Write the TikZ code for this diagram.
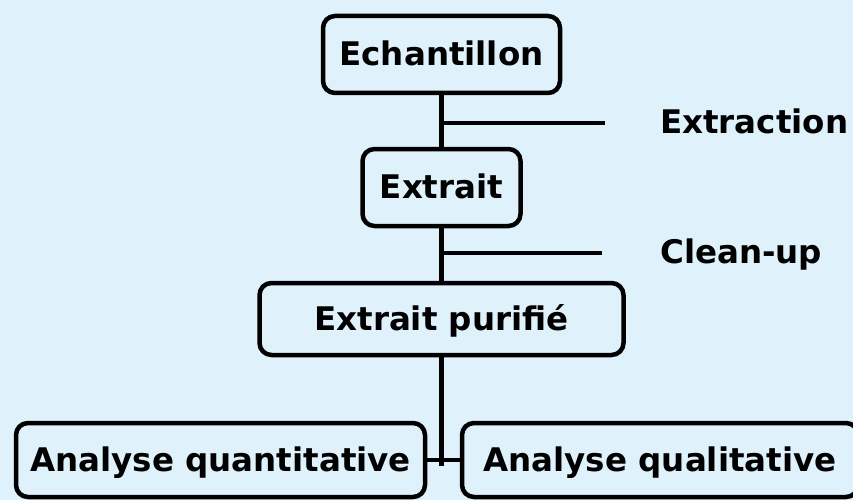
\documentclass[tikz,border=0pt]{standalone}
\usepackage{fontspec}
\setmainfont{DejaVu Sans}
\usepackage{tikz}
\usetikzlibrary{positioning}
\definecolor{fondbleu}{RGB}{223,242,251}

\begin{document}
\begin{tikzpicture}[line cap=round,line join=round,x=1pt,y=-1pt,
  etape/.style={draw=black,line width=4.5pt,rounded corners=12pt,fill=fondbleu,
    font=\fontsize{32.5}{39}\selectfont\bfseries,inner sep=0pt,
    text height=29pt,text depth=7pt},
  lien/.style={draw=black,line width=4.5pt,line cap=butt},
  operation/.style={font=\fontsize{32.5}{39}\selectfont\bfseries,inner sep=0pt,anchor=base west}]
\clip (0,0) rectangle (853,500);
\fill[fondbleu] (0,0) rectangle (853,500);
% tronc principal
\coordinate (jn) at (441.5,466);
\coordinate (t1) at (441.5,123);
\coordinate (e1) at (605,123);
\coordinate (t2) at (441.5,253);
\coordinate (e2) at (602,253);
\node[etape,minimum width=237,minimum height=77] (ech) at (441.5,54.5) {Echantillon};
\node[etape,minimum width=158,minimum height=77] (ext) at (441.5,187.5) {Extrait};
\node[etape,minimum width=364,minimum height=72] (pur) at (441.5,319) {Extrait purifi\'e};
\node[etape,minimum width=409,minimum height=74] (quant) at (220.5,460) {Analyse quantitative};
\node[etape,minimum width=396,minimum height=74] (qual) at (660,460) {Analyse qualitative};
\draw[lien] (ech) -- (ext);
\draw[lien] (ext) -- (pur);
\draw[lien] (pur) -- (jn);
\draw[lien] (quant.east) -- (qual.west);
\draw[lien] (t1) -- (e1);
\draw[lien] (t2) -- (e2);
% operations
\node[operation] (lext) at (660,133) {Extraction};
\node[operation] (lclean) at (660,263) {Clean-up};
\end{tikzpicture}
\end{document}
